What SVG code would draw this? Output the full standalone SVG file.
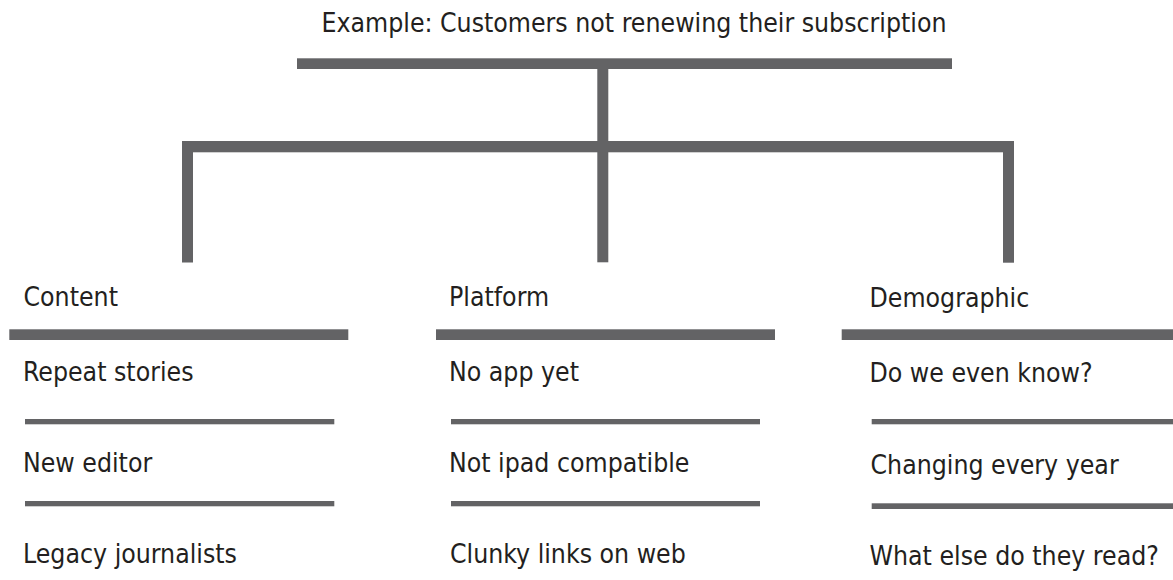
<svg xmlns="http://www.w3.org/2000/svg" width="1173" height="580" viewBox="0 0 1173 580">
  <style>
    .bar { fill: #636365; }
    .label { font-family: "DejaVu Sans Condensed", "DejaVu Sans", sans-serif; font-stretch: condensed; font-size: 26.4px; fill: #231f20; }
  </style>
  <rect width="1173" height="580" fill="#ffffff"/>

  <!-- root problem -->
  <g id="root">
    <text class="label" x="634" y="32" text-anchor="middle">Example: Customers not renewing their subscription</text>
    <rect class="bar" x="297" y="58.3" width="655" height="10.7"/>
  </g>

  <!-- tree connectors -->
  <g id="connectors">
    <rect class="bar" x="597.3" y="69" width="11" height="193.3"/>
    <rect class="bar" x="182" y="141" width="832" height="11.3"/>
    <rect class="bar" x="182" y="141" width="11" height="121.5"/>
    <rect class="bar" x="1003" y="141" width="11" height="121.7"/>
  </g>

  <!-- category: Content -->
  <g id="content">
    <text class="label" x="23.5" y="306">Content</text>
    <rect class="bar" x="9.3" y="329.3" width="339" height="10.7"/>
    <text class="label" x="23" y="380.7">Repeat stories</text>
    <rect class="bar" x="25" y="419" width="309.3" height="5.3"/>
    <text class="label" x="23" y="472.3">New editor</text>
    <rect class="bar" x="25" y="501" width="309.3" height="5.3"/>
    <text class="label" x="23" y="562.7">Legacy journalists</text>
  </g>

  <!-- category: Platform -->
  <g id="platform">
    <text class="label" x="449" y="306">Platform</text>
    <rect class="bar" x="436" y="329.3" width="339" height="10.7"/>
    <text class="label" x="449" y="381">No app yet</text>
    <rect class="bar" x="451" y="419" width="309" height="5.3"/>
    <text class="label" x="449" y="471.7">Not ipad compatible</text>
    <rect class="bar" x="451" y="501" width="309" height="5.3"/>
    <text class="label" x="450" y="563.3">Clunky links on web</text>
  </g>

  <!-- category: Demographic -->
  <g id="demographic">
    <text class="label" x="869.5" y="307.3">Demographic</text>
    <rect class="bar" x="841.7" y="329.3" width="331.3" height="10.7"/>
    <text class="label" x="869.5" y="382.3">Do we even know?</text>
    <rect class="bar" x="871.7" y="419" width="301.3" height="5.3"/>
    <text class="label" x="870.5" y="474">Changing every year</text>
    <rect class="bar" x="871.7" y="503.3" width="301.3" height="5.7"/>
    <text class="label" x="869.5" y="565">What else do they read?</text>
  </g>
</svg>
